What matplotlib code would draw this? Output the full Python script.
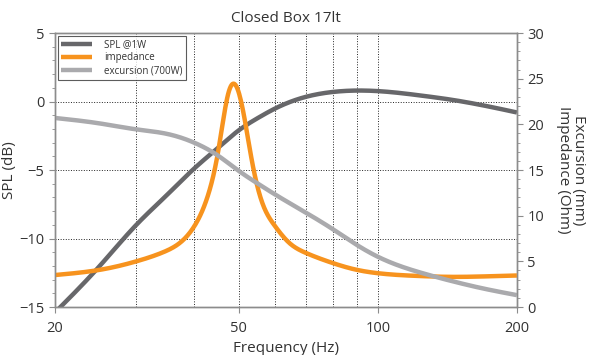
import numpy as np
import matplotlib.pyplot as plt
from matplotlib.ticker import FixedLocator, NullFormatter, MultipleLocator

plt.rcParams['font.family'] = ['Open Sans', 'DejaVu Sans']

# SPL @1W (dB), left axis
spl_freq = [20, 25, 30, 35, 40, 45, 50, 55, 60, 70, 80, 90, 100, 125, 143, 170, 200]
spl_db = [-15.4, -12.0, -9.0, -6.8, -4.9, -3.4, -2.1, -1.2, -0.5, 0.35, 0.7, 0.8, 0.76,
          0.42, 0.15, -0.3, -0.8]

# impedance (Ohm), right axis
imp_freq = [20, 25, 30, 34.3, 37, 40, 42.6, 44.8, 47.1, 49.0, 51.5, 53.8, 56.6, 60, 64.7, 70, 80,
            90, 100, 125, 143, 170, 200]
imp_ohm = [3.5, 4.07, 5.0, 6.0, 6.9, 8.8, 11.8, 16.2, 22.7, 24.4, 20.5, 15.1, 11.0, 8.8, 6.9, 5.9,
           4.8, 4.07, 3.7, 3.38, 3.3, 3.35, 3.45]

# excursion (mm) at 700W, right axis
exc_freq = [20, 25, 30, 35, 40, 45, 50, 55, 60, 70, 80, 90, 100, 125, 143, 170, 200]
exc_mm = [20.7, 20.1, 19.45, 18.95, 18.0, 16.6, 14.9, 13.5, 12.3, 10.3, 8.5, 6.8, 5.5,
          3.7, 2.9, 2.0, 1.3]

x_ticks = [20, 50, 100, 200]
x_grid = [30, 40, 60, 70, 80, 90]

c_spl = '#67676a'
c_imp = '#f7931e'
c_exc = '#aaaaad'
c_txt = '#333333'
c_spine = '#8c8c8c'


def smooth(fx, fy, n=500, logy=False):
    # natural cubic spline through the points, on log-frequency
    x = np.log10(np.asarray(fx, dtype=float))
    y = np.asarray(fy, dtype=float)
    if logy:
        y = np.log(y)
    k = len(x)
    h = np.diff(x)
    A = np.zeros((k, k))
    b = np.zeros(k)
    A[0, 0] = A[-1, -1] = 1.0
    for i in range(1, k - 1):
        A[i, i - 1] = h[i - 1]
        A[i, i] = 2 * (h[i - 1] + h[i])
        A[i, i + 1] = h[i]
        b[i] = 6 * ((y[i + 1] - y[i]) / h[i] - (y[i] - y[i - 1]) / h[i - 1])
    M = np.linalg.solve(A, b)
    xs = np.linspace(x[0], x[-1], n)
    j = np.clip(np.searchsorted(x, xs) - 1, 0, k - 2)
    t1 = x[j + 1] - xs
    t0 = xs - x[j]
    hj = h[j]
    ys = (M[j] * t1**3 + M[j + 1] * t0**3) / (6 * hj) \
        + (y[j] / hj - M[j] * hj / 6) * t1 + (y[j + 1] / hj - M[j + 1] * hj / 6) * t0
    if logy:
        ys = np.exp(ys)
    return 10 ** xs, ys


fig = plt.figure(figsize=(5.96, 3.55), dpi=100)
ax = fig.add_axes([0.0923, 0.1352, 0.775, 0.7718])
ax2 = ax.twinx()

l1, = ax.plot(*smooth(spl_freq, spl_db), color=c_spl, lw=3.2, label='SPL @1W', solid_capstyle='butt')
l2, = ax2.plot(*smooth(imp_freq, imp_ohm, logy=True), color=c_imp, lw=3.2, label='impedance',
               solid_capstyle='butt')
l3, = ax2.plot(*smooth(exc_freq, exc_mm), color=c_exc, lw=3.2, label='excursion (700W)', solid_capstyle='butt')

ax.set_xscale('log')
ax.set_xlim(20, 200)
ax.set_ylim(-15, 5)
ax2.set_ylim(0, 30)

ax.xaxis.set_major_locator(FixedLocator(x_ticks))
ax.xaxis.set_major_formatter(plt.FixedFormatter([str(v) for v in x_ticks]))
ax.xaxis.set_minor_locator(FixedLocator(x_grid))
ax.xaxis.set_minor_formatter(NullFormatter())
ax.yaxis.set_major_locator(MultipleLocator(5))
ax.yaxis.set_minor_locator(MultipleLocator(1))
ax2.yaxis.set_major_locator(MultipleLocator(5))
ax2.yaxis.set_minor_locator(MultipleLocator(1))

ax.grid(True, which='both', axis='x', color='#222222', ls=':', lw=0.7)
ax.grid(True, which='major', axis='y', color='#222222', ls=':', lw=0.7)

for a in (ax, ax2):
    for s in a.spines.values():
        s.set_color(c_spine)
        s.set_linewidth(1.0)
    a.tick_params(which='major', length=4, color=c_spine, labelcolor=c_txt, labelsize=10.5)
    a.tick_params(which='minor', length=2.5, color=c_spine)
ax.tick_params(axis='x', which='minor', length=0)
ax.tick_params(axis='x', pad=6)

ax.set_title('Closed Box 17lt', fontsize=11, color=c_txt, pad=8)
ax.set_xlabel('Frequency (Hz)', fontsize=11, color=c_txt, labelpad=4)
ax.set_ylabel('SPL (dB)', fontsize=11, color=c_txt, labelpad=2)
ax2.set_ylabel('Excursion (mm)\nImpedance (Ohm)', fontsize=11, color=c_txt, rotation=270,
               labelpad=30, linespacing=1.0)

leg = ax.legend(handles=[l1, l2, l3], loc='upper left', fontsize=7, frameon=True, fancybox=False,
                handlelength=3.2, borderpad=0.35, labelspacing=0.2, handletextpad=1.2,
                borderaxespad=0.3)
leg.get_frame().set_edgecolor('#333333')
leg.get_frame().set_linewidth(0.8)
for t in leg.get_texts():
    t.set_color(c_txt)
leg.remove()
ax2.add_artist(leg)

fig.savefig('out.png', dpi=100)
